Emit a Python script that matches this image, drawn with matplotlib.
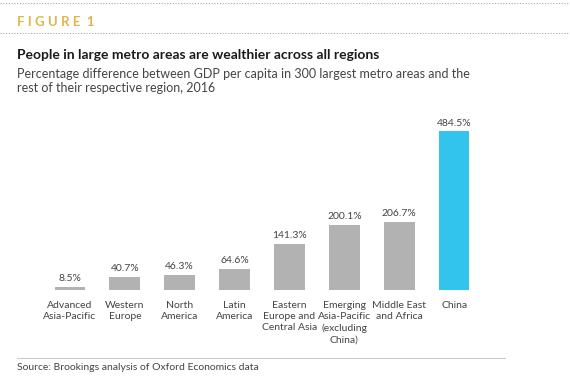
import matplotlib.pyplot as plt
from matplotlib.lines import Line2D

# дані
regions = ['Advanced\nAsia-Pacific', 'Western\nEurope', 'North\nAmerica', 'Latin\nAmerica',
           'Eastern\nEurope and\nCentral Asia', 'Emerging\nAsia-Pacific\n(excluding\nChina)',
           'Middle East\nand Africa', 'China']
values = [8.5, 40.7, 46.3, 64.6, 141.3, 200.1, 206.7, 484.5]
colors = ['#b2b2b2'] * 7 + ['#33c4ee']

plt.rcParams['font.family'] = ['Lato', 'DejaVu Sans']

fig = plt.figure(figsize=(5.7, 3.84), dpi=100)
W, H = 570, 384

def fy(px):
    return 1 - px / H

# шапка
fig.add_artist(Line2D([0, 1], [fy(3), fy(3)], color='#aaaaaa', lw=0.8, linestyle=(0, (1, 1.5))))
fig.add_artist(Line2D([0, 1], [fy(33), fy(33)], color='#aaaaaa', lw=0.8, linestyle=(0, (1, 1.5))))
fig.text(17 / W, fy(22), 'F I G U R E  1', color='#e0b54a', fontsize=9.5, fontweight='bold', va='center')
fig.text(17 / W, fy(55), 'People in large metro areas are wealthier across all regions',
         color='#1a1a1a', fontsize=10, fontweight='bold', va='center')
fig.text(17 / W, fy(81), 'Percentage difference between GDP per capita in 300 largest metro areas and the\n'
         'rest of their respective region, 2016', color='#444444', fontsize=9, va='center', linespacing=1.25)

# графік
ax = fig.add_axes([42.5 / W, fy(290), 439 / W, 180 / H])
x = range(len(values))
bars = ax.bar(x, values, width=0.56, color=colors)
for xi, v in zip(x, values):
    ax.text(xi, v + 12, f'{v:.1f}%', ha='center', va='bottom', fontsize=7.5, color='#444444')
ax.set_xlim(-0.5, 7.5)
ax.set_ylim(0, 550)
ax.set_xticks(list(x))
ax.set_xticklabels(regions, fontsize=7.5, color='#444444', linespacing=1.3, va='top')
ax.tick_params(axis='x', length=0, pad=8)
ax.set_yticks([])
for s in ax.spines.values():
    s.set_visible(False)

# джерело
fig.add_artist(Line2D([17 / W, 505 / W], [fy(358), fy(358)], color='#cccccc', lw=0.8))
fig.text(17 / W, fy(368), 'Source: Brookings analysis of Oxford Economics data',
         color='#444444', fontsize=7.5, va='center')

fig.savefig('out.png', dpi=100)
